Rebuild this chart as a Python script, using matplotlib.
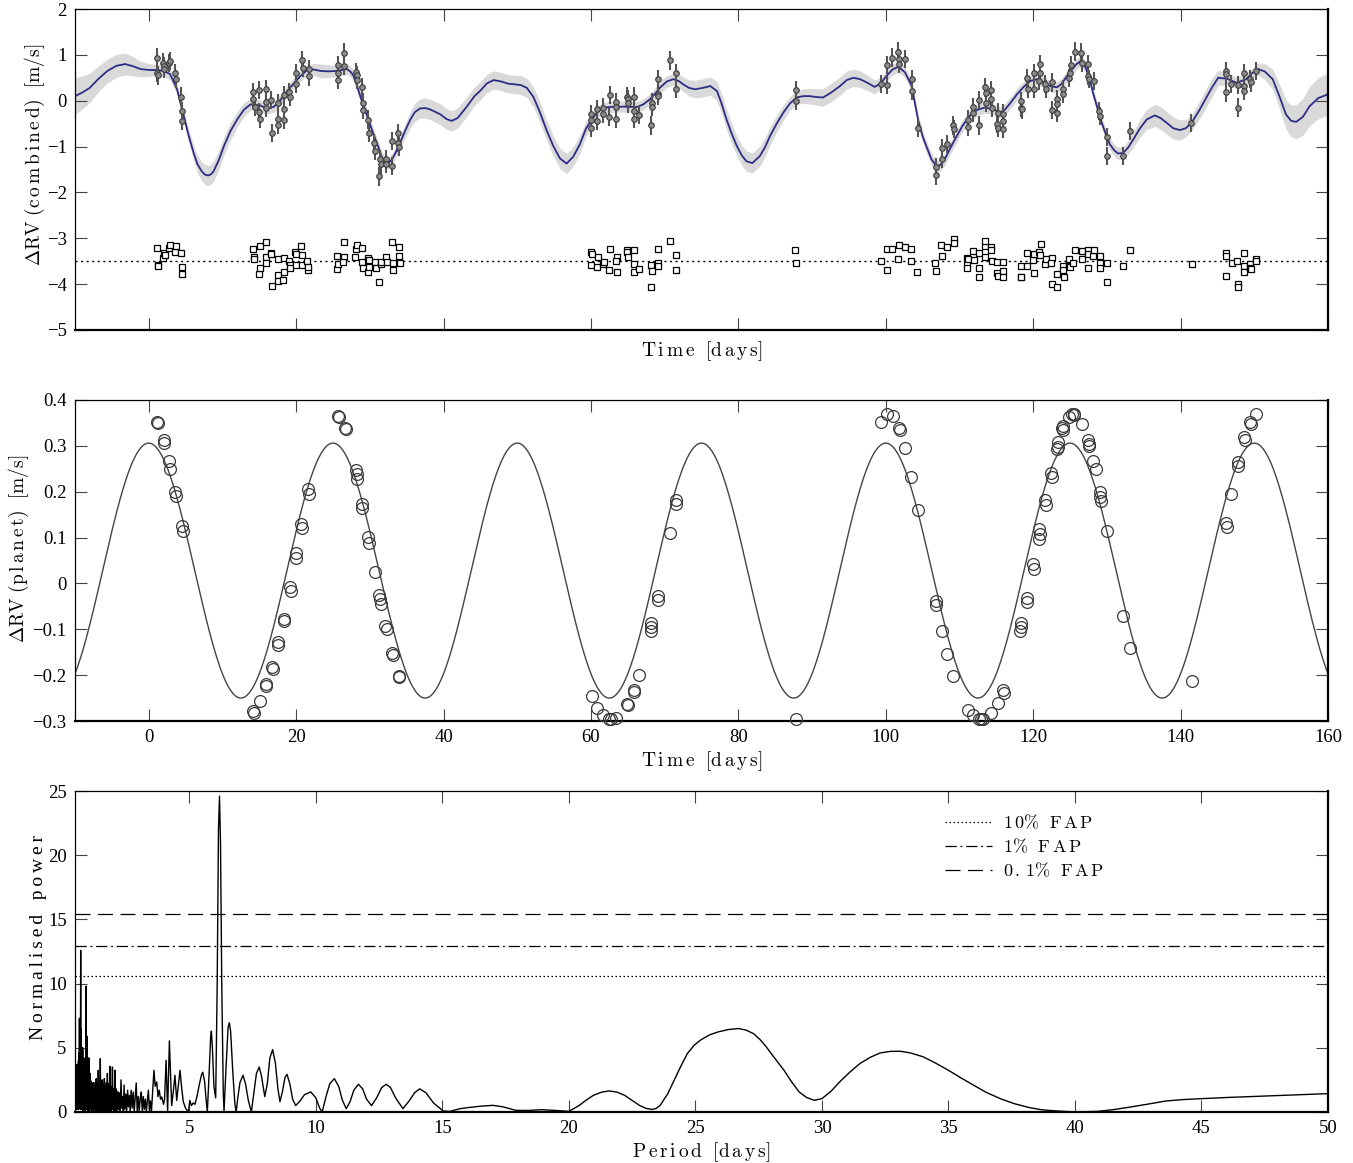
import numpy as np
import matplotlib
matplotlib.use('Agg')
import matplotlib.pyplot as plt
from matplotlib.lines import Line2D
from matplotlib.ticker import FuncFormatter

plt.rcParams['font.family'] = ['Liberation Serif', 'DejaVu Serif']
plt.rcParams['mathtext.fontset'] = 'cm'

# ---------------- data: top panel (combined RV, GP model) ----------------
gp_t = [-10, -9, -8, -6.8, -5.6, -4.4, -3.2, -2.1, -1.1, 0.0,
        1.1, 2.0, 2.9, 3.85, 4.75, 5.4, 6.1, 6.6, 7.2, 7.6,
        8.05, 8.4, 8.8, 9.5, 10.2, 11.1, 12.0, 12.9, 13.8, 15.1,
        16.05, 17.0, 17.9, 18.8, 19.7, 20.6, 21.5, 22.4, 23.3, 24.4,
        25.5, 26.2, 26.9, 27.4, 27.8, 28.2, 28.7, 29.4, 30.1, 30.7,
        31.2, 31.6, 32.1, 32.5, 33.0, 33.5, 34.1, 34.8, 35.5, 36.1,
        36.8, 37.5, 38.2, 39.6, 40.4, 41.1, 41.9, 43.2, 44.2, 45.0,
        45.9, 46.8, 47.8, 48.8, 49.5, 50.5, 51.3, 52.2, 53.1, 54.0,
        54.9, 55.8, 56.7, 57.6, 58.5, 59.3, 60.1, 60.9, 61.7, 63.1,
        64.6, 66.2, 67.1, 68.0, 68.7, 69.4, 70.3, 71.2, 71.9, 72.5,
        73.3, 74.1, 75.2, 76.2, 77.1, 77.7, 78.4, 79.1, 79.8, 80.5,
        81.1, 81.9, 82.9, 83.6, 84.3, 85.2, 86.1, 87.0, 87.9, 88.8,
        89.7, 90.6, 91.5, 92.6, 93.8, 94.7, 95.6, 96.5, 97.4, 98.5,
        99.3, 100.1, 100.9, 101.7, 102.6, 103.5, 104.4, 105.0, 105.5, 106.2,
        106.9, 107.4, 108.0, 108.7, 109.5, 110.4, 111.4, 112.4, 113.4, 114.5,
        115.5, 116.2, 117.0, 117.8, 118.7, 119.6, 120.5, 121.4, 122.3, 123.2,
        123.8, 124.3, 125.1, 125.9, 126.3, 126.8, 127.2, 127.7, 128.1, 128.7,
        129.3, 129.9, 130.4, 131.0, 131.5, 132.2, 132.9, 133.6, 134.5, 135.4,
        136.5, 137.3, 138.1, 139.0, 139.9, 140.7, 141.5, 142.5, 143.5, 144.3,
        145.1, 146.3, 147.6, 148.9, 149.7, 150.5, 151.4, 152.5, 153.4, 154.3,
        155.0, 155.7, 156.6, 157.5, 158.7, 160.0]
gp_mean = [0.10, 0.18, 0.28, 0.48, 0.65, 0.76, 0.80, 0.75, 0.69, 0.67,
           0.67, 0.65, 0.58, 0.25, -0.33, -0.75, -1.14, -1.38, -1.54, -1.61,
           -1.63, -1.61, -1.54, -1.30, -0.99, -0.66, -0.41, -0.20, -0.08, -0.10,
           -0.17, -0.13, 0.02, 0.21, 0.38, 0.54, 0.67, 0.68, 0.65, 0.64,
           0.65, 0.67, 0.69, 0.63, 0.54, 0.36, 0.10, -0.22, -0.55, -0.82,
           -1.03, -1.22, -1.36, -1.36, -1.28, -1.13, -0.92, -0.65, -0.41, -0.25,
           -0.17, -0.16, -0.19, -0.30, -0.40, -0.44, -0.38, -0.12, 0.10, 0.22,
           0.38, 0.45, 0.42, 0.37, 0.36, 0.34, 0.28, 0.08, -0.26, -0.65,
           -0.99, -1.26, -1.37, -1.22, -0.95, -0.62, -0.41, -0.24, -0.15, -0.13,
           -0.13, -0.14, -0.08, 0.03, 0.15, 0.29, 0.42, 0.47, 0.43, 0.36,
           0.28, 0.25, 0.28, 0.32, 0.21, -0.05, -0.41, -0.72, -0.99, -1.20,
           -1.32, -1.36, -1.21, -1.02, -0.77, -0.50, -0.26, -0.06, 0.07, 0.10,
           0.10, 0.08, 0.07, 0.18, 0.32, 0.45, 0.50, 0.47, 0.40, 0.30,
           0.38, 0.54, 0.68, 0.74, 0.62, 0.33, -0.43, -0.78, -0.99, -1.28,
           -1.43, -1.40, -1.28, -1.05, -0.81, -0.55, -0.33, -0.20, -0.15, -0.18,
           -0.26, -0.19, -0.03, 0.14, 0.30, 0.43, 0.47, 0.41, 0.32, 0.29,
           0.36, 0.47, 0.65, 0.80, 0.85, 0.81, 0.69, 0.45, 0.18, -0.15,
           -0.48, -0.75, -0.95, -1.08, -1.15, -1.14, -1.02, -0.84, -0.60, -0.41,
           -0.32, -0.38, -0.48, -0.60, -0.64, -0.60, -0.48, -0.22, 0.07, 0.30,
           0.50, 0.48, 0.39, 0.47, 0.60, 0.69, 0.64, 0.47, 0.10, -0.30,
           -0.44, -0.46, -0.35, -0.12, 0.06, 0.14]
gp_sd = [0.40, 0.36, 0.32, 0.28, 0.26, 0.25, 0.24, 0.21, 0.17, 0.14,
         0.12, 0.12, 0.12, 0.12, 0.13, 0.15, 0.17, 0.19, 0.21, 0.22,
         0.22, 0.22, 0.22, 0.21, 0.20, 0.19, 0.17, 0.15, 0.13, 0.12,
         0.12, 0.12, 0.12, 0.12, 0.12, 0.12, 0.12, 0.13, 0.15, 0.14,
         0.12, 0.12, 0.12, 0.12, 0.12, 0.12, 0.12, 0.12, 0.12, 0.12,
         0.12, 0.12, 0.12, 0.12, 0.12, 0.12, 0.13, 0.15, 0.18, 0.20,
         0.21, 0.22, 0.22, 0.23, 0.23, 0.22, 0.22, 0.21, 0.20, 0.20,
         0.20, 0.20, 0.20, 0.20, 0.20, 0.21, 0.21, 0.22, 0.22, 0.22,
         0.22, 0.22, 0.22, 0.21, 0.20, 0.17, 0.14, 0.12, 0.12, 0.12,
         0.12, 0.12, 0.12, 0.12, 0.13, 0.13, 0.13, 0.13, 0.15, 0.16,
         0.18, 0.19, 0.20, 0.20, 0.21, 0.21, 0.22, 0.22, 0.22, 0.22,
         0.22, 0.22, 0.22, 0.21, 0.20, 0.18, 0.17, 0.15, 0.15, 0.16,
         0.17, 0.18, 0.19, 0.20, 0.20, 0.20, 0.19, 0.18, 0.17, 0.15,
         0.13, 0.12, 0.12, 0.12, 0.12, 0.12, 0.12, 0.13, 0.13, 0.13,
         0.13, 0.13, 0.13, 0.13, 0.13, 0.13, 0.13, 0.12, 0.12, 0.12,
         0.12, 0.13, 0.13, 0.13, 0.12, 0.12, 0.12, 0.12, 0.12, 0.12,
         0.12, 0.12, 0.12, 0.12, 0.12, 0.12, 0.12, 0.12, 0.12, 0.12,
         0.12, 0.12, 0.13, 0.13, 0.14, 0.14, 0.15, 0.17, 0.20, 0.22,
         0.24, 0.25, 0.25, 0.24, 0.22, 0.19, 0.17, 0.19, 0.21, 0.20,
         0.17, 0.13, 0.12, 0.12, 0.12, 0.13, 0.17, 0.22, 0.27, 0.32,
         0.35, 0.37, 0.40, 0.43, 0.45, 0.46]

comb_t = [1.13, 1.13, 1.2, 2.0, 2.05, 2.1, 2.8, 2.95, 3.6, 3.7, 4.4, 4.5, 4.55,
          14.15, 14.2, 14.4, 15.0, 15.0, 15.05, 15.9, 15.95, 15.85, 16.6, 16.7, 17.5, 17.5,
          17.55, 18.3, 18.3, 18.3, 19.1, 19.2, 20.0, 20.05, 20.8, 20.9, 21.7, 21.8,
          25.7, 25.7, 25.75, 26.5, 26.55, 28.1, 28.2, 28.3, 29.0, 29.05, 29.1, 29.8, 29.85,
          30.6, 30.65, 31.4, 31.45, 31.3, 32.2, 32.25, 33.0, 33.05, 33.8, 33.85, 33.9,
          60.0, 60.0, 60.05, 60.8, 60.8, 61.7, 61.7, 62.6, 62.5, 63.4, 63.4, 63.45, 64.95,
          65.0, 65.05, 65.8, 65.8, 65.85, 66.5, 68.1, 68.3, 68.35, 69.1, 69.1, 69.15, 70.7,
          71.55, 71.6, 87.8, 87.85,
          99.35, 100.2, 100.2, 100.9, 101.7, 101.75, 101.8, 102.6, 103.5, 103.55, 104.4,
          106.75, 106.8, 107.6, 107.6, 108.35, 109.15, 109.2, 111.1, 111.15, 111.9, 111.9,
          112.7, 112.7, 113.5, 113.55, 113.55, 114.3, 114.3, 114.35, 115.2, 115.15, 115.25,
          115.95, 115.95, 115.95, 118.35, 118.4, 118.45, 119.2, 119.25, 120.05, 120.1, 120.9,
          120.95, 120.85, 121.65, 121.7, 122.55, 122.6, 123.3, 123.3, 123.2, 124.0, 124.05,
          124.8, 124.95, 125.1, 125.7, 126.5, 126.6, 127.4, 127.45, 127.55, 128.25, 128.95,
          129.0, 129.95, 129.95, 132.2, 133.2, 141.4,
          146.1, 146.1, 146.1, 146.9, 147.8, 147.8, 148.6, 148.6, 148.65, 149.4, 149.5, 150.2]
comb_rv = [0.94, 0.60, 0.55, 0.83, 0.76, 0.69, 0.82, 0.87, 0.60, 0.48, 0.09, -0.22, -0.44,
           0.19, 0.03, -0.13, 0.23, -0.25, -0.39, 0.25, -0.02, -0.15, 0.01, -0.70, -0.06, -0.39,
           -0.52, 0.12, -0.17, -0.41, 0.19, 0.09, 0.60, 0.36, 0.89, 0.72, 0.69, 0.53,
           0.77, 0.61, 0.45, 1.05, 0.75, 0.63, 0.56, 0.45, 0.29, -0.04, -0.20, -0.41, -0.70,
           -0.92, -1.10, -1.28, -1.39, -1.65, -1.28, -1.38, -0.88, -1.43, -0.70, -0.92, -1.00,
           -0.30, -0.41, -0.59, -0.19, -0.44, -0.15, -0.28, 0.12, -0.36, -0.03, -0.13, -0.39, 0.09,
           0.03, -0.06, 0.09, -0.22, -0.39, -0.31, -0.54, -0.04, -0.13, 0.47, 0.14, 0.10, 0.88,
           0.60, 0.26, 0.23, -0.01,
           0.36, 0.78, 0.34, 0.94, 1.07, 0.92, 0.80, 0.91, 0.47, 0.21, -0.59,
           -1.45, -1.63, -1.03, -1.27, -0.94, -0.54, -0.61, -0.41, -0.57, -0.13, -0.26,
           0.01, -0.54, 0.29, 0.16, -0.04, 0.23, 0.03, -0.15, -0.26, -0.50, -0.59,
           -0.28, -0.44, -0.61, -0.01, -0.15, -0.19, 0.49, 0.25, 0.61, 0.25, 0.80,
           0.61, 0.43, 0.36, 0.25, 0.40, -0.20, 0.03, -0.08, -0.27, 0.25, 0.14,
           0.50, 0.61, 0.77, 1.07, 1.05, 0.83, 0.80, 0.54, 0.47, 0.43, -0.22,
           -0.33, -0.79, -1.20, -1.21, -0.66, -0.48,
           0.65, 0.58, 0.18, 0.36, 0.34, -0.15, 0.61, 0.32, 0.21, 0.47, 0.40, 0.65]
comb_err = 0.2

res_t = [1.13, 1.2, 1.25, 1.9, 2.1, 2.15, 2.7, 2.9, 3.6, 3.7, 4.4, 4.45, 4.5,
         14.1, 14.3, 14.25, 15.0, 15.1, 15.1, 15.9, 15.9, 15.9, 16.6, 16.65, 16.7, 17.5, 17.5,
         17.6, 18.3, 18.2, 18.3, 19.1, 19.15, 19.2, 19.9, 19.95, 19.95, 20.7, 20.8, 20.8, 21.5,
         21.6, 21.65,
         25.6, 25.6, 25.75, 26.5, 26.55, 26.4, 28.0, 28.1, 28.2, 28.9, 28.9, 29.1, 29.8, 29.85,
         29.8, 29.95, 30.7, 30.8, 31.3, 31.5, 31.55, 32.2, 32.3, 33.0, 33.2, 33.2, 33.9, 34.0,
         34.05,
         60.0, 60.2, 60.0, 60.8, 60.9, 61.7, 61.75, 62.6, 62.5, 63.5, 63.4, 63.5, 64.9, 64.95,
         65.0, 65.8, 65.8, 65.9, 66.5, 68.1, 68.2, 68.35, 69.1, 69.15, 69.15, 70.7, 71.5, 71.6,
         87.75, 87.8,
         99.35, 100.2, 100.2, 100.9, 101.7, 101.8, 102.6, 103.4, 103.45, 104.3,
         106.7, 106.75, 107.5, 107.6, 108.3, 109.2, 109.2, 111.0, 111.0, 111.0, 111.1, 111.8,
         112.0, 112.6, 112.7, 112.7, 113.4, 113.5, 113.5, 114.3, 114.3, 114.35, 115.1, 115.1,
         115.2, 115.9, 115.9, 115.95, 118.3, 118.35, 118.4, 119.1, 119.2, 120.0, 120.1, 120.1,
         120.8, 120.9, 121.0, 121.6, 121.7, 122.5, 122.45, 122.5, 123.2, 123.3, 124.0, 124.1,
         124.15, 124.8, 124.9, 125.0, 125.4, 125.7, 126.6, 126.65, 127.4, 127.5, 127.5, 128.1,
         128.2, 129.0, 129.0, 129.1, 130.0, 130.0, 132.2, 133.2, 141.5,
         146.1, 146.1, 146.1, 147.0, 147.7, 147.75, 147.75, 148.6, 148.6, 148.6, 149.4, 149.4,
         149.5, 150.2, 150.25]
res_rv = [0.28, -0.08, -0.10, 0.07, 0.18, 0.14, 0.28, 0.36, 0.21, 0.34, 0.19, -0.12, -0.28,
          0.26, 0.10, 0.04, -0.28, 0.34, -0.14, 0.41, 0.10, -0.03, 0.17, 0.16, -0.53, -0.30, -0.43,
          0.04, 0.08, -0.42, -0.23, 0.01, -0.08, -0.14, 0.20, 0.16, -0.09, 0.34, 0.14, -0.09, 0.01,
          -0.20, -0.12,
          0.12, -0.17, -0.05, 0.41, 0.10, -0.02, 0.10, 0.26, 0.36, 0.28, -0.02, -0.15, 0.07, 0.03,
          -0.23, -0.12, -0.01, -0.15, -0.46, -0.06, -0.02, 0.10, -0.01, 0.41, -0.04, -0.19, 0.32,
          0.12, -0.04,
          0.21, 0.15, -0.09, -0.12, 0.10, -0.07, -0.02, 0.27, -0.20, 0.10, 0.01, -0.23, 0.25, 0.21,
          0.10, -0.06, -0.23, 0.25, -0.17, -0.56, -0.09, -0.21, -0.04, -0.10, 0.27, 0.43, 0.14,
          -0.19,
          0.24, -0.03,
          0.00, 0.26, -0.19, 0.26, 0.04, 0.36, 0.32, 0.27, 0.01, -0.24,
          -0.04, -0.21, 0.36, 0.12, 0.32, 0.49, 0.39, 0.07, -0.05, -0.15, 0.05, 0.23,
          0.02, 0.19, -0.15, -0.35, 0.34, 0.44, 0.09, 0.32, 0.24, 0.01, -0.01, -0.25,
          -0.32, -0.01, -0.21, -0.34, -0.10, -0.34, -0.34, 0.19, -0.10, 0.02, 0.16, -0.25,
          0.20, 0.14, 0.38, -0.06, 0.04, 0.08, -0.04, -0.50, -0.57, -0.28, -0.10, -0.20,
          -0.34, 0.04, -0.10, -0.12, -0.03, 0.24, 0.22, 0.04, -0.14, 0.24, 0.15, 0.12,
          0.24, -0.03, -0.14, 0.12, -0.03, -0.45, -0.10, 0.25, -0.06,
          0.19, 0.12, -0.32, -0.03, 0.01, -0.50, -0.57, 0.19, -0.10, -0.23, -0.07, -0.15,
          -0.16, 0.04, 0.00]
res_offset = -3.5

# ---------------- data: middle panel (planet signal) ----------------
planet_t = [1.13, 1.2, 2.03, 2.12, 2.8, 2.93, 3.52, 3.7, 4.51, 4.6,
            14.2, 14.3, 15.08, 15.9, 15.95, 16.7, 16.8, 17.5, 17.55, 18.3, 18.35, 19.2, 19.25,
            19.95, 20.0, 20.7, 20.75, 21.65, 21.7,
            25.75, 25.8, 26.6, 26.7, 28.1, 28.2, 28.3, 28.9, 29.0, 29.8, 29.9, 30.7, 31.3, 31.4,
            31.5, 32.1, 32.3, 33.05, 33.2, 33.95, 34.0,
            60.1, 60.8, 61.7, 62.5, 62.7, 63.4, 64.95, 65.0, 65.8, 65.85, 66.5, 68.1, 68.15, 68.2,
            69.05, 69.1, 70.7, 71.5, 71.6,
            87.8,
            99.3, 100.2, 101.0, 101.8, 101.9, 102.6, 103.4, 104.4,
            106.75, 106.8, 107.6, 108.35, 109.15, 111.1, 111.9, 112.6, 112.9, 113.2, 114.3, 115.2,
            115.95, 116.0,
            118.3, 118.35, 118.25, 119.1, 119.15, 120.0, 120.05, 120.85, 120.9, 120.8, 121.65,
            121.7, 122.4, 122.5, 123.35, 123.4, 123.3, 123.9, 124.0, 124.1, 124.9, 125.2, 125.5,
            125.6, 126.6, 127.5, 127.55, 127.6, 128.1, 128.5, 129.05, 129.1, 129.15, 129.95,
            132.2, 133.2,
            141.5,
            146.2, 146.25, 146.9, 147.8, 147.85, 148.65, 148.7, 149.45, 149.5, 150.2]
planet_rv = [0.353, 0.349, 0.313, 0.307, 0.267, 0.249, 0.200, 0.191, 0.126, 0.115,
             -0.279, -0.282, -0.257, -0.220, -0.224, -0.182, -0.187, -0.128, -0.135, -0.077,
             -0.083, -0.008, -0.016, 0.067, 0.056, 0.129, 0.121, 0.205, 0.196,
             0.365, 0.362, 0.340, 0.337, 0.247, 0.238, 0.227, 0.174, 0.165, 0.102, 0.089, 0.025,
             -0.026, -0.035, -0.045, -0.093, -0.100, -0.152, -0.157, -0.202, -0.205,
             -0.246, -0.272, -0.288, -0.296, -0.296, -0.293, -0.262, -0.266, -0.232, -0.237,
             -0.200, -0.086, -0.095, -0.104, -0.028, -0.037, 0.109, 0.174, 0.183,
             -0.296,
             0.353, 0.369, 0.365, 0.340, 0.335, 0.295, 0.233, 0.161,
             -0.039, -0.048, -0.104, -0.153, -0.202, -0.275, -0.288, -0.295, -0.296, -0.295,
             -0.283, -0.261, -0.233, -0.239,
             -0.086, -0.096, -0.104, -0.031, -0.040, 0.042, 0.031, 0.118, 0.107, 0.096, 0.182,
             0.171, 0.240, 0.233, 0.309, 0.298, 0.293, 0.338, 0.344, 0.335, 0.363, 0.369, 0.369,
             0.367, 0.347, 0.313, 0.303, 0.300, 0.267, 0.249, 0.200, 0.189, 0.180, 0.114,
             -0.072, -0.140,
             -0.213,
             0.132, 0.122, 0.196, 0.264, 0.256, 0.320, 0.313, 0.351, 0.348, 0.369]

# fitted circular-orbit model
model_K = 0.278        # semi-amplitude [m/s]
model_P = 25.0         # period [days]
model_offset = 0.028   # [m/s]
model_tpeak = 0.0      # time of maximum [days]

# ---------------- data: bottom panel (periodogram) ----------------
forest_period = [
    0.490, 0.495, 0.505, 0.515, 0.525, 0.535, 0.545, 0.555, 0.565, 0.575, 0.585, 0.595, 0.605,
    0.615, 0.625, 0.635, 0.645, 0.655, 0.665, 0.675, 0.685, 0.695, 0.705, 0.715, 0.725, 0.735,
    0.745, 0.755, 0.765, 0.775, 0.785, 0.795, 0.805, 0.815, 0.825, 0.835, 0.845, 0.855, 0.865,
    0.875, 0.885, 0.895, 0.905, 0.915, 0.925, 0.935, 0.945, 0.955, 0.965, 0.975, 0.985, 0.995,
    1.005, 1.02, 1.04, 1.06, 1.08, 1.10, 1.12, 1.14, 1.16, 1.18, 1.20, 1.22, 1.24, 1.26, 1.28,
    1.30, 1.32, 1.34, 1.36, 1.38, 1.40, 1.42, 1.44, 1.46, 1.48, 1.50, 1.52, 1.54, 1.56, 1.58,
    1.60, 1.62, 1.64, 1.66, 1.68, 1.70, 1.72, 1.74, 1.76, 1.78, 1.80, 1.82, 1.84, 1.86, 1.88,
    1.90, 1.92, 1.94, 1.96, 1.98, 2.00, 2.02, 2.04, 2.06, 2.08, 2.11, 2.14, 2.17, 2.20, 2.23,
    2.26, 2.30, 2.33, 2.36, 2.39, 2.42, 2.45, 2.49, 2.52, 2.56, 2.59, 2.63, 2.66, 2.70, 2.74,
    2.78, 2.82, 2.86, 2.90, 2.94, 2.98, 3.02, 3.06, 3.10, 3.14, 3.18, 3.22, 3.26, 3.30, 3.34,
    3.38, 3.42, 3.46, 3.50]
forest_power = [
    0.0, 3.7, 0.3, 3.4, 0.2, 3.6, 0.5, 3.7, 0.2, 3.0, 0.4, 3.3, 0.3,
    4.0, 0.2, 4.6, 0.6, 7.3, 0.4, 5.0, 0.3, 4.8, 12.6, 0.2, 6.5, 0.5,
    4.9, 0.2, 5.0, 0.4, 5.0, 0.1, 4.0, 0.3, 3.6, 0.2, 4.2, 0.4, 3.4,
    0.1, 4.0, 0.3, 4.1, 9.8, 0.4, 4.1, 0.2, 2.6, 5.9, 0.3, 3.0, 0.1,
    4.2, 0.2, 4.2, 0.1, 3.0, 0.3, 2.4, 0.0, 2.0, 0.2, 2.3, 0.0, 1.6, 0.3, 2.3,
    0.1, 2.6, 0.0, 2.2, 0.2, 3.25, 0.0, 2.0, 0.3, 4.15, 0.0, 2.4, 0.2, 2.5, 0.0,
    2.2, 0.3, 2.6, 0.0, 2.0, 0.2, 2.3, 0.0, 3.0, 0.3, 2.2, 0.0, 1.6, 3.56, 0.1,
    2.0, 0.0, 1.4, 3.5, 0.2, 1.8, 0.0, 1.2, 3.25, 0.1, 1.8, 0.0, 1.6, 0.2, 1.5,
    0.0, 2.5, 0.3, 1.2, 0.0, 2.1, 0.2, 1.4, 0.0, 1.7, 0.4, 1.3, 0.0, 1.7, 0.3,
    1.56, 0.0, 1.1, 2.26, 0.0, 1.2, 0.1, 1.1, 1.56, 0.0, 1.2, 0.2, 1.0, 0.0, 0.9,
    1.7, 0.1, 0.86, 0.0]
mid_period = [3.60, 3.65, 3.71, 3.76, 3.81, 3.86, 3.91, 3.98, 4.02, 4.08,
              4.14, 4.21, 4.30, 4.36, 4.43, 4.50, 4.56, 4.63, 4.70, 4.76,
              4.85, 4.96, 5.02, 5.08, 5.15, 5.22, 5.30, 5.40, 5.48, 5.53,
              5.60, 5.66, 5.71, 5.78, 5.84, 5.87, 5.91, 5.97, 6.04, 6.10,
              6.15, 6.19, 6.23, 6.28, 6.34, 6.37, 6.45, 6.53, 6.58, 6.63,
              6.72, 6.80, 6.85, 6.92, 7.00, 7.12, 7.22, 7.33, 7.45, 7.55,
              7.65, 7.76, 7.85, 7.98, 8.08, 8.18, 8.29, 8.40, 8.50, 8.58,
              8.68, 8.78, 8.86, 8.97, 9.08, 9.20, 9.35, 9.55, 9.80, 10.00,
              10.15, 10.25, 10.40, 10.55, 10.73, 10.90, 11.05, 11.20, 11.35, 11.50,
              11.68, 11.85, 12.00, 12.20, 12.40, 12.60, 12.78, 12.95, 13.15, 13.44,
              13.70, 13.90, 14.10, 14.35, 14.65]
mid_power = [3.25, 2.0, 2.34, 1.2, 1.7, 1.0, 1.17, 0.6, 1.0, 4.03,
             0.0, 5.54, 0.5, 1.5, 2.86, 0.9, 2.0, 3.25, 1.8, 0.8,
             0.3, 0.0, 0.9, 0.5, 0.7, 0.6, 1.2, 2.2, 2.9, 3.1,
             2.4, 1.0, 0.0, 3.0, 5.8, 6.3, 5.0, 2.0, 1.1, 10.0,
             22.0, 24.6, 21.0, 10.0, 1.5, 0.1, 3.5, 6.6, 6.95, 6.3,
             3.0, 0.6, 0.0, 1.2, 2.3, 2.86, 2.2, 0.9, 0.0, 1.5,
             3.0, 3.5, 2.8, 1.2, 2.2, 4.2, 4.86, 3.8, 1.8, 0.8,
             1.6, 2.7, 2.93, 2.2, 1.0, 0.5, 0.8, 1.35, 1.56, 1.1,
             0.3, 0.0, 1.2, 2.2, 2.6, 2.0, 0.9, 0.26, 0.8, 1.7,
             2.16, 1.8, 1.0, 0.5, 1.1, 1.9, 2.16, 1.9, 1.1, 0.26,
             0.9, 1.5, 1.8, 1.5, 0.7]
long_period = [15.03, 15.3, 15.7, 16.0, 16.5, 17.0, 17.4, 17.9, 18.4, 18.9,
               19.5, 20.0, 20.4, 20.7, 20.97, 21.3, 21.6, 21.9, 22.2, 22.5,
               22.8, 23.05, 23.3, 23.45, 23.6, 23.9, 24.16, 24.42, 24.68, 24.95,
               25.2, 25.55, 25.9, 26.3, 26.7, 27.0, 27.3, 27.55, 27.8, 28.15,
               28.5, 28.8, 29.1, 29.4, 29.7, 30.0, 30.35, 30.7, 31.1, 31.5,
               31.9, 32.3, 32.7, 33.1, 33.5, 34.0, 34.5, 35.0, 35.5, 36.0,
               36.5, 37.05, 37.6, 38.2, 38.7, 39.3, 40.0, 40.9, 41.5, 42.2,
               42.9, 43.6, 44.3, 45.0, 46.0, 47.2, 48.6, 50.0]
long_power = [0.08, 0.05, 0.26, 0.34, 0.45, 0.52, 0.40, 0.13, 0.12, 0.18,
              0.12, 0.05, 0.50, 0.95, 1.30, 1.55, 1.64, 1.55, 1.30, 0.90,
              0.50, 0.28, 0.20, 0.28, 0.50, 1.40, 2.47, 3.55, 4.55, 5.20,
              5.60, 6.00, 6.24, 6.42, 6.50, 6.38, 6.10, 5.65, 5.07, 4.15,
              3.25, 2.35, 1.56, 1.12, 0.91, 1.04, 1.60, 2.34, 3.10, 3.77,
              4.25, 4.60, 4.72, 4.73, 4.60, 4.30, 3.80, 3.25, 2.65, 2.08,
              1.52, 1.04, 0.65, 0.34, 0.17, 0.08, 0.00, 0.05, 0.18, 0.39,
              0.62, 0.86, 0.97, 1.04, 1.13, 1.22, 1.32, 1.43]
fap_levels = [10.6, 12.9, 15.45]
fap_labels = ['10% FAP', '1% FAP', '0.1% FAP']

# ---------------- figure ----------------
W, H = 1353, 1163
fig = plt.figure(figsize=(W / 100, H / 100), dpi=100)


def px_axes(left, top, right, bottom):
    return fig.add_axes([left / W, 1 - bottom / H, (right - left) / W, (bottom - top) / H])


ax1 = px_axes(75, 9, 1328, 330)
ax2 = px_axes(75, 400, 1328, 721)
ax3 = px_axes(75, 791, 1328, 1112)

TICK = dict(direction='in', length=8.5, width=0.8, color='#444444', top=True, right=True,
            labelsize=13.5, pad=6)


def style(ax):
    ax.tick_params(which='both', **TICK)
    for s in ['top', 'left']:
        ax.spines[s].set_linewidth(0.9)
    for s in ['bottom', 'right']:
        ax.spines[s].set_linewidth(1.6)


def minus_fmt(fmt):
    def f(v, pos):
        if abs(v) < 1e-9:
            return '0'
        return (fmt % v).replace('-', '\u2212')
    return FuncFormatter(f)


def spaced(s):
    return '   '.join('\u2009'.join(w) for w in s.split(' '))


# ---- top panel ----
gt = np.array(gp_t)
gm = np.array(gp_mean)
gs = np.array(gp_sd)
ax1.fill_between(gt, gm - gs, gm + gs, color='#d9d9d9', lw=0, zorder=1)
ax1.plot(gt, gm, color='#2d2d86', lw=1.3, zorder=2)
ax1.errorbar(comb_t, comb_rv, yerr=comb_err, fmt='o', ms=4, mfc='#8c8c8c', mec='#3c3c3c',
             mew=0.8, ecolor='#555555', elinewidth=1.5, capsize=0, zorder=3)
ax1.axhline(res_offset, color='black', lw=1.0, ls=(0, (1.5, 2.5)), zorder=2)
ax1.plot(res_t, np.array(res_rv) + res_offset, 's', ms=4.2, mfc='white', mec='black',
         mew=0.9, zorder=3)
ax1.set_xlim(-10, 160)
ax1.set_ylim(-5, 2)
ax1.set_xticks(range(0, 161, 20))
ax1.set_xticklabels([])
ax1.set_yticks(range(-5, 3))
ax1.yaxis.set_major_formatter(minus_fmt('%d'))
style(ax1)
ax1.set_xlabel(r'$\mathrm{T\,i\,m\,e\ \ [d\,a\,y\,s]}$', fontsize=14)
ax1.xaxis.set_label_coords(0.5, -0.029)
ax1.set_ylabel(r'$\Delta\mathrm{RV}\ \mathrm{(c\,o\,m\,b\,i\,n\,e\,d)\ \ [m/s]}$', fontsize=14)
ax1.yaxis.set_label_coords(-0.022, 0.545)

# ---- middle panel ----
tm = np.linspace(-10, 160, 1200)
rv_model = model_offset + model_K * np.cos(2 * np.pi * (tm - model_tpeak) / model_P)
ax2.plot(tm, rv_model, color='#444444', lw=1.0, zorder=2)
ax2.plot(planet_t, planet_rv, 'o', ms=8.5, mfc='none', mec='#3a3a3a', mew=0.9, zorder=3,
         clip_on=False)
ax2.set_xlim(-10, 160)
ax2.set_ylim(-0.3, 0.4)
ax2.set_xticks(range(0, 161, 20))
ax2.set_yticks(np.round(np.arange(-0.3, 0.41, 0.1), 1))
ax2.yaxis.set_major_formatter(minus_fmt('%.1f'))
style(ax2)
ax2.set_xlabel(r'$\mathrm{T\,i\,m\,e\ \ [d\,a\,y\,s]}$', fontsize=14)
ax2.xaxis.set_label_coords(0.5, -0.088)
ax2.set_ylabel(r'$\Delta\mathrm{RV}\ \mathrm{(p\,l\,a\,n\,e\,t)\ \ [m/s]}$', fontsize=14)
ax2.yaxis.set_label_coords(-0.035, 0.536)

# ---- bottom panel ----
period_days = forest_period + mid_period + long_period
power = forest_power + mid_power + long_power
ax3.plot(period_days, power, color='black', lw=1.0, zorder=3)
fap_styles = [(0, (1.2, 2.0)), (0, (9, 3, 1.5, 3)), (0, (12, 6))]
handles = []
for lvl, ls in zip(fap_levels, fap_styles):
    ax3.axhline(lvl, color='black', lw=0.9, ls=ls, zorder=2)
    handles.append(Line2D([], [], color='black', lw=0.9, ls=ls))
legend_labels = [r'$\mathrm{1\,0\%\ \ F\,A\,P}$', r'$\mathrm{1\%\ \ F\,A\,P}$',
                 r'$\mathrm{0\,.\,1\%\ \ F\,A\,P}$']
ax3.legend(handles, legend_labels, loc='upper left', bbox_to_anchor=(0.694, 0.928),
           frameon=False, fontsize=13, handlelength=2.6, handletextpad=0.65,
           labelspacing=0.3, borderpad=0, borderaxespad=0)
ax3.set_xlim(0.48, 50)
ax3.set_ylim(0, 25)
ax3.set_xticks(range(5, 51, 5))
ax3.set_yticks(range(0, 26, 5))
style(ax3)
ax3.set_xlabel(r'$\mathrm{P\,e\,r\,i\,o\,d\ \ [d\,a\,y\,s]}$', fontsize=14)
ax3.xaxis.set_label_coords(0.5, -0.088)
ax3.set_ylabel(spaced('Normalised power'), fontsize=14)
ax3.yaxis.set_label_coords(-0.022, 0.545)

fig.savefig('out.png', dpi=100)
